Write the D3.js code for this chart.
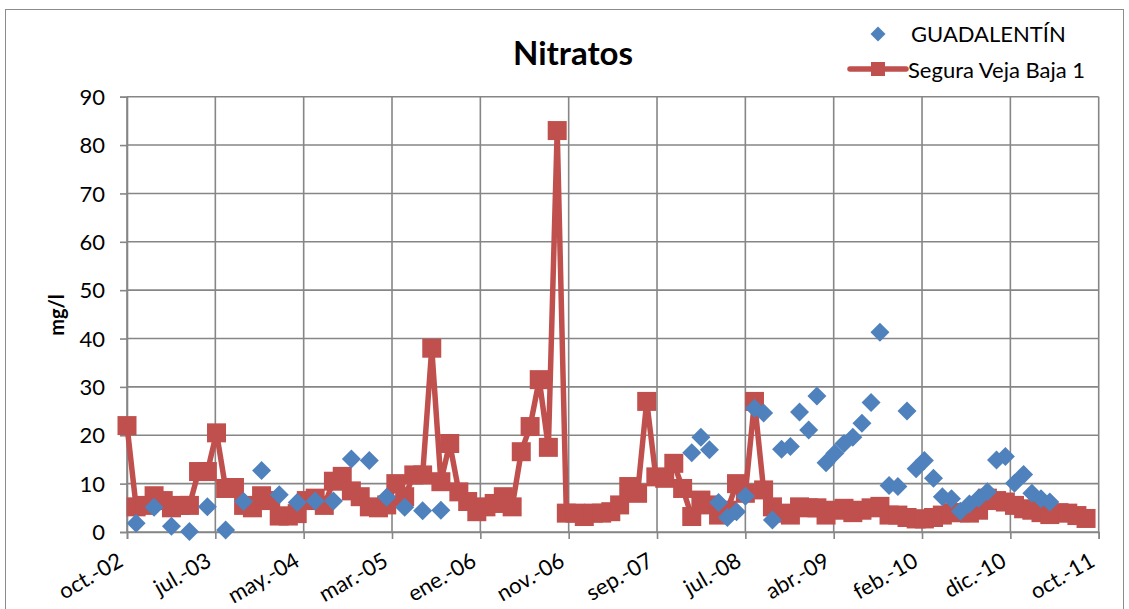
<!DOCTYPE html>
<html><head><meta charset="utf-8">
<script src="https://cdn.jsdelivr.net/npm/d3@7"></script>
<style>
html,body{margin:0;padding:0;background:#fff;}
svg{display:block;}
</style>
</head><body>
<svg id="chart" width="1129" height="609"></svg>
<script>
// ---- data ----
const title = "Nitratos";
const yTitle = "mg/l";
const seriesNames = ["GUADALENTÍN", "Segura Veja Baja 1"];

const xTickDates = ["2002-10-01","2003-07-28","2004-05-23","2005-03-19","2006-01-13","2006-11-09",
  "2007-09-05","2008-07-01","2009-04-27","2010-02-21","2010-12-18","2011-10-14"];
const xTickLabels = ["oct.-02","jul.-03","may.-04","mar.-05","ene.-06","nov.-06",
  "sep.-07","jul.-08","abr.-09","feb.-10","dic.-10","oct.-11"];
const yTicks = [0,10,20,30,40,50,60,70,80,90];

// Segura Veja Baja 1 (monthly)
const seguraMonths = [
  "2002-10","2002-11","2002-12",
  "2003-01","2003-02","2003-03","2003-04","2003-05","2003-06","2003-07","2003-08","2003-09","2003-10","2003-11","2003-12",
  "2004-01","2004-02","2004-03","2004-04","2004-05","2004-06","2004-07","2004-08","2004-09","2004-10","2004-11","2004-12",
  "2005-01","2005-02","2005-03","2005-04","2005-05","2005-06","2005-07","2005-08","2005-09","2005-10","2005-11","2005-12",
  "2006-01","2006-02","2006-03","2006-04","2006-05","2006-06","2006-07","2006-08","2006-09","2006-10","2006-11","2006-12",
  "2007-01","2007-02","2007-03","2007-04","2007-05","2007-06","2007-07","2007-08","2007-09","2007-10","2007-11","2007-12",
  "2008-01","2008-02","2008-03","2008-04","2008-05","2008-06","2008-07","2008-08","2008-09","2008-10","2008-11","2008-12",
  "2009-01","2009-02","2009-03","2009-04","2009-05","2009-06","2009-07","2009-08","2009-09","2009-10","2009-11","2009-12",
  "2010-01","2010-02","2010-03","2010-04","2010-05","2010-06","2010-07","2010-08","2010-09","2010-10","2010-11","2010-12",
  "2011-01","2011-02","2011-03","2011-04","2011-05","2011-06","2011-07","2011-08","2011-09"];
const seguraValues = [
  22, 5.2, 5.5,
  7.5, 6.5, 5, 5.5, 5.5, 12.5, 12.5, 20.5, 9, 9.2, 5.5, 5,
  7.5, 6.5, 3.3, 3.3, 3.8, 6.5, 7, 5.5, 10.5, 11.5, 8.5, 7.3,
  5.2, 5, 5.6, 10, 7.3, 11.8, 11.8, 38, 10.4, 18.3, 8.3, 6.3,
  4.2, 5.2, 5.9, 7.3, 5.2, 16.6, 21.8, 31.5, 17.5, 83, 3.9, 3.9,
  3.2, 3.9, 3.9, 4.2, 5.6, 9.4, 8, 27, 11.4, 11.1, 14.2, 9,
  3.2, 6.6, 5.6, 3.5, 4.5, 10, 8, 27, 8.7, 5.2, 3.9, 3.5,
  5.2, 5, 5, 3.5, 4.5, 4.9, 4, 4.5, 5, 5.3, 3.5, 3.5,
  3, 2.7, 2.7, 3, 3.5, 4, 4, 3.9, 4.5, 7, 6.5, 6.2,
  5.5, 4.8, 4.5, 4, 3.6, 4, 3.9, 3.4, 2.8];

// GUADALENTÍN
const guadaMonths = [
  "2002-11","2003-01","2003-03","2003-05","2003-07","2003-09","2003-11",
  "2004-01","2004-03","2004-05","2004-07","2004-09","2004-11",
  "2005-01","2005-03","2005-05","2005-07","2005-09",
  "2008-01","2008-02","2008-03","2008-04","2008-05","2008-06","2008-07","2008-08","2008-09","2008-10","2008-11","2008-12",
  "2009-01","2009-02","2009-03","2009-04","2009-05","2009-06","2009-07","2009-08","2009-09","2009-10","2009-11","2009-12",
  "2010-01","2010-02","2010-03","2010-04","2010-05","2010-06","2010-07","2010-08","2010-09","2010-10","2010-11","2010-12",
  "2011-01","2011-02","2011-03","2011-04","2011-05"];
const guadaValues = [
  1.8, 5.1, 1.2, 0.1, 5.2, 0.4, 6.3,
  12.7, 7.7, 6.1, 6.4, 6.4, 15.1,
  14.8, 7.2, 5.1, 4.4, 4.5,
  16.4, 19.6, 17, 6.1, 3, 4.2, 7.4, 25.6, 24.6, 2.5, 17.1, 17.7,
  24.8, 21.1, 28.1, 14.3, 16.3, 18.3, 19.6, 22.5, 26.8, 41.3, 9.6, 9.4,
  25, 13.1, 14.8, 11.1, 7.3, 6.9, 4.3, 5.8, 7, 8.3, 14.9, 15.6,
  10.1, 11.9, 8, 6.9, 6.2];

// ---- drawing ----
const RED = "#C0504D", BLUE = "#4F81BD", GRID = "#868686";
const parseM = d3.timeParse("%Y-%m");
const parseD = d3.timeParse("%Y-%m-%d");
const segura = seguraMonths.map((m,i)=>({d:parseM(m), v:seguraValues[i]}));
const guada = guadaMonths.map((m,i)=>({d:parseM(m), v:guadaValues[i]}));
const tickDates = xTickDates.map(parseD);

const svg = d3.select("#chart");
const L = 127, R = 1098.7, T = 96.7, B = 532;
const x = d3.scaleTime().domain([tickDates[0], tickDates[tickDates.length-1]]).range([L, R]);
const y = d3.scaleLinear().domain([0, 90]).range([B, T]);

// outer border
svg.append("rect").attr("x",5.5).attr("y",9.5).attr("width",1118).attr("height",640)
  .attr("fill","#fff").attr("stroke","#8c8c8c").attr("stroke-width",1);

// title
svg.append("text").attr("x",573).attr("y",65).attr("text-anchor","middle")
  .attr("font-family","Lato, 'Open Sans', sans-serif").attr("font-weight","bold")
  .attr("font-size",33).attr("fill","#000").text(title);

// gridlines
const g = svg.append("g");
g.selectAll("line.hg").data(yTicks).join("line")
  .attr("x1",L).attr("x2",R).attr("y1",d=>y(d)).attr("y2",d=>y(d))
  .attr("stroke",GRID).attr("stroke-width",1.6);
g.selectAll("line.vg").data(tickDates).join("line")
  .attr("y1",T).attr("y2",B).attr("x1",d=>x(d)).attr("x2",d=>x(d))
  .attr("stroke",GRID).attr("stroke-width",1.6);

// y axis
const yAxis = svg.append("g").attr("transform",`translate(${L},0)`)
  .call(d3.axisLeft(y).tickValues(yTicks).tickSize(7).tickPadding(15).tickFormat(d3.format("d")));
yAxis.select(".domain").attr("stroke",GRID).attr("stroke-width",1.6);
yAxis.selectAll(".tick line").attr("stroke",GRID).attr("stroke-width",1.6);
yAxis.selectAll(".tick text").attr("font-family","Lato, 'Open Sans', sans-serif")
  .attr("font-size",22).attr("fill","#000").attr("dy","0.35em");

// x axis
const xAxis = svg.append("g").attr("transform",`translate(0,${B})`)
  .call(d3.axisBottom(x).tickValues(tickDates).tickSize(7).tickFormat((d,i)=>xTickLabels[i]));
xAxis.select(".domain").attr("stroke",GRID).attr("stroke-width",1.6);
xAxis.selectAll(".tick line").attr("stroke",GRID).attr("stroke-width",1.6);
xAxis.selectAll(".tick text").attr("font-family","Lato, 'Open Sans', sans-serif")
  .attr("font-size",22).attr("fill","#000")
  .attr("text-anchor","end").attr("dy",0)
  .attr("transform","translate(-3,33) rotate(-30)").attr("x",0).attr("y",0);

// y title
svg.append("text").attr("transform","translate(64,315) rotate(-90)")
  .attr("text-anchor","middle").attr("font-family","Lato, 'Open Sans', sans-serif")
  .attr("font-weight","bold").attr("font-size",20).attr("fill","#000").text(yTitle);

// Segura line + squares
const line = d3.line().x(d=>x(d.d)).y(d=>y(d.v));
svg.append("path").datum(segura).attr("d",line).attr("fill","none")
  .attr("stroke",RED).attr("stroke-width",5.5).attr("stroke-linejoin","round");
const S = 19;
svg.append("g").selectAll("rect").data(segura).join("rect")
  .attr("x",d=>x(d.d)-S/2).attr("y",d=>y(d.v)-S/2).attr("width",S).attr("height",S)
  .attr("fill",RED);

// Guadalentín diamonds
const D = 9.5;
const diamond = (cx,cy,r)=>`M${cx},${cy-r}L${cx+r},${cy}L${cx},${cy+r}L${cx-r},${cy}Z`;
svg.append("g").selectAll("path").data(guada).join("path")
  .attr("d",d=>diamond(x(d.d),y(d.v),D)).attr("fill",BLUE);

// legend
const lg = svg.append("g");
lg.append("path").attr("d",diamond(878,34,7.5)).attr("fill",BLUE);
lg.append("text").attr("x",911).attr("y",42).attr("font-family","Lato, 'Open Sans', sans-serif")
  .attr("font-size",22).attr("fill","#000").text(seriesNames[0]);
lg.append("line").attr("x1",850).attr("x2",906).attr("y1",69).attr("y2",69)
  .attr("stroke",RED).attr("stroke-width",5.5).attr("stroke-linecap","round");
lg.append("rect").attr("x",871).attr("y",62).attr("width",14).attr("height",14).attr("fill",RED);
lg.append("text").attr("x",908).attr("y",78).attr("font-family","Lato, 'Open Sans', sans-serif")
  .attr("font-size",22).attr("fill","#000").text(seriesNames[1]);
</script>
</body></html>
